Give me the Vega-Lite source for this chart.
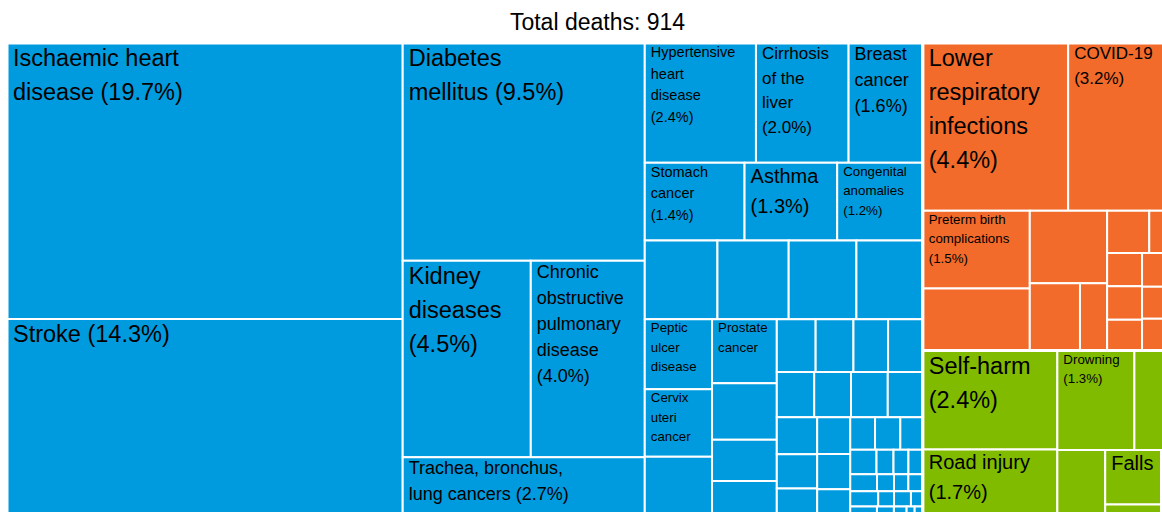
{
  "$schema": "https://vega.github.io/schema/vega-lite/v6.json",
  "width": 1155,
  "height": 469,
  "autosize": {"type": "none"},
  "padding": {"left": 7, "top": 43, "right": 0, "bottom": 0},
  "background": "white",
  "config": {"view": {"stroke": null}},
  "title": {"text": "Total deaths: 914", "font": "Liberation Sans", "fontSize": 23, "fontWeight": "normal", "color": "#000000", "anchor": "middle", "dx": 13, "offset": 8},
  "data": {"values": [
    {"g":"ncd","k1":1,"k2":1,"k3":0,"k4":0,"k5":0,"k6":0,"k7":0,"pct":19.7,"cause":"Ischaemic heart disease","label":["Ischaemic heart","disease (19.7%)"],"tier":"a"},
    {"g":"ncd","k1":1,"k2":2,"k3":0,"k4":0,"k5":0,"k6":0,"k7":0,"pct":14.3,"cause":"Stroke","label":["Stroke (14.3%)"],"tier":"a"},
    {"g":"ncd","k1":2,"k2":1,"k3":0,"k4":0,"k5":0,"k6":0,"k7":0,"pct":9.5,"cause":"Diabetes mellitus","label":["Diabetes","mellitus (9.5%)"],"tier":"a"},
    {"g":"ncd","k1":2,"k2":2,"k3":1,"k4":0,"k5":0,"k6":0,"k7":0,"pct":4.54,"cause":"Kidney diseases","label":["Kidney","diseases","(4.5%)"],"tier":"a"},
    {"g":"ncd","k1":2,"k2":2,"k3":2,"k4":0,"k5":0,"k6":0,"k7":0,"pct":4.04,"cause":"Chronic obstructive pulmonary disease","label":["Chronic","obstructive","pulmonary","disease","(4.0%)"],"tier":"c"},
    {"g":"ncd","k1":2,"k2":3,"k3":0,"k4":0,"k5":0,"k6":0,"k7":0,"pct":2.72,"cause":"Trachea, bronchus, lung cancers","label":["Trachea, bronchus,","lung cancers (2.7%)"],"tier":"c"},
    {"g":"ncd","k1":3,"k2":1,"k3":1,"k4":0,"k5":0,"k6":0,"k7":0,"pct":2.4,"cause":"Hypertensive heart disease","label":["Hypertensive","heart","disease","(2.4%)"],"tier":"e"},
    {"g":"ncd","k1":3,"k2":1,"k3":2,"k4":0,"k5":0,"k6":0,"k7":0,"pct":2.0,"cause":"Cirrhosis of the liver","label":["Cirrhosis","of the","liver","(2.0%)"],"tier":"d"},
    {"g":"ncd","k1":3,"k2":1,"k3":3,"k4":0,"k5":0,"k6":0,"k7":0,"pct":1.6,"cause":"Breast cancer","label":["Breast","cancer","(1.6%)"],"tier":"c"},
    {"g":"ncd","k1":3,"k2":2,"k3":1,"k4":0,"k5":0,"k6":0,"k7":0,"pct":1.4,"cause":"Stomach cancer","label":["Stomach","cancer","(1.4%)"],"tier":"e"},
    {"g":"ncd","k1":3,"k2":2,"k3":2,"k4":0,"k5":0,"k6":0,"k7":0,"pct":1.3,"cause":"Asthma","label":["Asthma","(1.3%)"],"tier":"b"},
    {"g":"ncd","k1":3,"k2":2,"k3":3,"k4":0,"k5":0,"k6":0,"k7":0,"pct":1.2,"cause":"Congenital anomalies","label":["Congenital","anomalies","(1.2%)"],"tier":"f"},
    {"g":"ncd","k1":3,"k2":3,"k3":1,"k4":0,"k5":0,"k6":0,"k7":0,"pct":1.03},
    {"g":"ncd","k1":3,"k2":3,"k3":2,"k4":0,"k5":0,"k6":0,"k7":0,"pct":1.01},
    {"g":"ncd","k1":3,"k2":3,"k3":3,"k4":0,"k5":0,"k6":0,"k7":0,"pct":0.96},
    {"g":"ncd","k1":3,"k2":3,"k3":4,"k4":0,"k5":0,"k6":0,"k7":0,"pct":0.94},
    {"g":"ncd","k1":3,"k2":4,"k3":1,"k4":1,"k5":0,"k6":0,"k7":0,"pct":0.85,"cause":"Peptic ulcer disease","label":["Peptic","ulcer","disease"],"tier":"f"},
    {"g":"ncd","k1":3,"k2":4,"k3":1,"k4":2,"k5":0,"k6":0,"k7":0,"pct":0.82,"cause":"Cervix uteri cancer","label":["Cervix","uteri","cancer"],"tier":"f"},
    {"g":"ncd","k1":3,"k2":4,"k3":1,"k4":3,"k5":0,"k6":0,"k7":0,"pct":0.76},
    {"g":"ncd","k1":3,"k2":4,"k3":2,"k4":1,"k5":0,"k6":0,"k7":0,"pct":0.75,"cause":"Prostate cancer","label":["Prostate","cancer"],"tier":"f"},
    {"g":"ncd","k1":3,"k2":4,"k3":2,"k4":2,"k5":0,"k6":0,"k7":0,"pct":0.66},
    {"g":"ncd","k1":3,"k2":4,"k3":2,"k4":3,"k5":0,"k6":0,"k7":0,"pct":0.48},
    {"g":"ncd","k1":3,"k2":4,"k3":2,"k4":4,"k5":0,"k6":0,"k7":0,"pct":0.45},
    {"g":"ncd","k1":3,"k2":4,"k3":3,"k4":1,"k5":1,"k6":0,"k7":0,"pct":0.37},
    {"g":"ncd","k1":3,"k2":4,"k3":3,"k4":1,"k5":2,"k6":0,"k7":0,"pct":0.36},
    {"g":"ncd","k1":3,"k2":4,"k3":3,"k4":1,"k5":3,"k6":0,"k7":0,"pct":0.33},
    {"g":"ncd","k1":3,"k2":4,"k3":3,"k4":1,"k5":4,"k6":0,"k7":0,"pct":0.33},
    {"g":"ncd","k1":3,"k2":4,"k3":3,"k4":2,"k5":1,"k6":0,"k7":0,"pct":0.305},
    {"g":"ncd","k1":3,"k2":4,"k3":3,"k4":2,"k5":2,"k6":0,"k7":0,"pct":0.30},
    {"g":"ncd","k1":3,"k2":4,"k3":3,"k4":2,"k5":3,"k6":0,"k7":0,"pct":0.30},
    {"g":"ncd","k1":3,"k2":4,"k3":3,"k4":2,"k5":4,"k6":0,"k7":0,"pct":0.285},
    {"g":"ncd","k1":3,"k2":4,"k3":3,"k4":3,"k5":1,"k6":1,"k7":0,"pct":0.27},
    {"g":"ncd","k1":3,"k2":4,"k3":3,"k4":3,"k5":1,"k6":2,"k7":0,"pct":0.25},
    {"g":"ncd","k1":3,"k2":4,"k3":3,"k4":3,"k5":1,"k6":3,"k7":0,"pct":0.225},
    {"g":"ncd","k1":3,"k2":4,"k3":3,"k4":3,"k5":2,"k6":1,"k7":0,"pct":0.22},
    {"g":"ncd","k1":3,"k2":4,"k3":3,"k4":3,"k5":2,"k6":2,"k7":0,"pct":0.21},
    {"g":"ncd","k1":3,"k2":4,"k3":3,"k4":3,"k5":2,"k6":3,"k7":0,"pct":0.18},
    {"g":"ncd","k1":3,"k2":4,"k3":3,"k4":3,"k5":3,"k6":1,"k7":1,"pct":0.146},
    {"g":"ncd","k1":3,"k2":4,"k3":3,"k4":3,"k5":3,"k6":1,"k7":2,"pct":0.149},
    {"g":"ncd","k1":3,"k2":4,"k3":3,"k4":3,"k5":3,"k6":1,"k7":3,"pct":0.132},
    {"g":"ncd","k1":3,"k2":4,"k3":3,"k4":3,"k5":3,"k6":2,"k7":1,"pct":0.116},
    {"g":"ncd","k1":3,"k2":4,"k3":3,"k4":3,"k5":3,"k6":2,"k7":2,"pct":0.075},
    {"g":"ncd","k1":3,"k2":4,"k3":3,"k4":3,"k5":3,"k6":2,"k7":3,"pct":0.066},
    {"g":"ncd","k1":3,"k2":4,"k3":3,"k4":3,"k5":3,"k6":2,"k7":4,"pct":0.063},
    {"g":"ncd","k1":3,"k2":4,"k3":3,"k4":3,"k5":3,"k6":3,"k7":1,"pct":0.082},
    {"g":"ncd","k1":3,"k2":4,"k3":3,"k4":3,"k5":3,"k6":3,"k7":2,"pct":0.052},
    {"g":"ncd","k1":3,"k2":4,"k3":3,"k4":3,"k5":3,"k6":3,"k7":3,"pct":0.044},
    {"g":"ncd","k1":3,"k2":4,"k3":3,"k4":3,"k5":3,"k6":3,"k7":4,"pct":0.044},
    {"g":"ncd","k1":3,"k2":4,"k3":3,"k4":3,"k5":3,"k6":4,"k7":1,"pct":0.076},
    {"g":"ncd","k1":3,"k2":4,"k3":3,"k4":3,"k5":3,"k6":4,"k7":2,"pct":0.043},
    {"g":"ncd","k1":3,"k2":4,"k3":3,"k4":3,"k5":3,"k6":4,"k7":3,"pct":0.046},
    {"g":"ncd","k1":3,"k2":4,"k3":3,"k4":3,"k5":3,"k6":4,"k7":4,"pct":0.032},
    {"g":"ncd","k1":3,"k2":4,"k3":3,"k4":3,"k5":3,"k6":5,"k7":1,"pct":0.063},
    {"g":"ncd","k1":3,"k2":4,"k3":3,"k4":3,"k5":3,"k6":5,"k7":2,"pct":0.04},
    {"g":"ncd","k1":3,"k2":4,"k3":3,"k4":3,"k5":3,"k6":5,"k7":3,"pct":0.03},
    {"g":"ncd","k1":3,"k2":4,"k3":3,"k4":3,"k5":3,"k6":5,"k7":4,"pct":0.019},
    {"g":"ncd","k1":3,"k2":4,"k3":3,"k4":3,"k5":3,"k6":5,"k7":5,"pct":0.019},
    {"g":"comm","k1":4,"k2":1,"k3":1,"k4":0,"k5":0,"k6":0,"k7":0,"pct":4.4,"cause":"Lower respiratory infections","label":["Lower","respiratory","infections","(4.4%)"],"tier":"a"},
    {"g":"comm","k1":4,"k2":1,"k3":2,"k4":0,"k5":0,"k6":0,"k7":0,"pct":3.05,"cause":"COVID-19","label":["COVID-19","(3.2%)"],"tier":"d"},
    {"g":"comm","k1":4,"k2":2,"k3":1,"k4":1,"k5":0,"k6":0,"k7":0,"pct":1.5,"cause":"Preterm birth complications","label":["Preterm birth","complications","(1.5%)"],"tier":"f"},
    {"g":"comm","k1":4,"k2":2,"k3":1,"k4":2,"k5":0,"k6":0,"k7":0,"pct":1.2},
    {"g":"comm","k1":4,"k2":2,"k3":2,"k4":1,"k5":0,"k6":0,"k7":0,"pct":1.01},
    {"g":"comm","k1":4,"k2":2,"k3":2,"k4":2,"k5":1,"k6":0,"k7":0,"pct":0.61},
    {"g":"comm","k1":4,"k2":2,"k3":2,"k4":2,"k5":2,"k6":0,"k7":0,"pct":0.33},
    {"g":"comm","k1":4,"k2":2,"k3":3,"k4":1,"k5":1,"k6":0,"k7":0,"pct":0.32},
    {"g":"comm","k1":4,"k2":2,"k3":3,"k4":1,"k5":2,"k6":0,"k7":0,"pct":0.15},
    {"g":"comm","k1":4,"k2":2,"k3":3,"k4":2,"k5":1,"k6":1,"k7":0,"pct":0.21},
    {"g":"comm","k1":4,"k2":2,"k3":3,"k4":2,"k5":1,"k6":2,"k7":0,"pct":0.21},
    {"g":"comm","k1":4,"k2":2,"k3":3,"k4":2,"k5":1,"k6":3,"k7":0,"pct":0.195},
    {"g":"comm","k1":4,"k2":2,"k3":3,"k4":2,"k5":2,"k6":1,"k7":0,"pct":0.165},
    {"g":"comm","k1":4,"k2":2,"k3":3,"k4":2,"k5":2,"k6":2,"k7":0,"pct":0.155},
    {"g":"comm","k1":4,"k2":2,"k3":3,"k4":2,"k5":2,"k6":3,"k7":0,"pct":0.155},
    {"g":"inj","k1":4,"k2":3,"k3":1,"k4":1,"k5":0,"k6":0,"k7":0,"pct":2.4,"cause":"Self-harm","label":["Self-harm","(2.4%)"],"tier":"a"},
    {"g":"inj","k1":4,"k2":3,"k3":1,"k4":2,"k5":0,"k6":0,"k7":0,"pct":1.7,"cause":"Road injury","label":["Road injury","(1.7%)"],"tier":"b"},
    {"g":"inj","k1":4,"k2":3,"k3":2,"k4":1,"k5":1,"k6":0,"k7":0,"pct":1.38,"cause":"Drowning","label":["Drowning","(1.3%)"],"tier":"f"},
    {"g":"inj","k1":4,"k2":3,"k3":2,"k4":1,"k5":2,"k6":0,"k7":0,"pct":0.62},
    {"g":"inj","k1":4,"k2":3,"k3":2,"k4":2,"k5":1,"k6":0,"k7":0,"pct":0.6},
    {"g":"inj","k1":4,"k2":3,"k3":2,"k4":2,"k5":2,"k6":1,"k7":0,"pct":0.55,"cause":"Falls","label":["Falls"],"tier":"b"},
    {"g":"inj","k1":4,"k2":3,"k3":2,"k4":2,"k5":2,"k6":2,"k7":0,"pct":0.15},
    {"g":"inj","k1":4,"k2":3,"k3":2,"k4":2,"k5":3,"k6":0,"k7":0,"pct":0.1}
  ]},
  "transform": [
    {"stack": "pct", "groupby": [], "sort": [{"field": "k1"}], "offset": "normalize", "as": ["s1a", "s1b"]},
    {"joinaggregate": [{"op": "min", "field": "s1a", "as": "a1"}, {"op": "max", "field": "s1b", "as": "b1"}], "groupby": ["k1"]},
    {"stack": "pct", "groupby": ["k1"], "sort": [{"field": "k2"}], "offset": "normalize", "as": ["s2a", "s2b"]},
    {"joinaggregate": [{"op": "min", "field": "s2a", "as": "a2"}, {"op": "max", "field": "s2b", "as": "b2"}], "groupby": ["k1", "k2"]},
    {"stack": "pct", "groupby": ["k1", "k2"], "sort": [{"field": "k3"}], "offset": "normalize", "as": ["s3a", "s3b"]},
    {"joinaggregate": [{"op": "min", "field": "s3a", "as": "a3"}, {"op": "max", "field": "s3b", "as": "b3"}], "groupby": ["k1", "k2", "k3"]},
    {"stack": "pct", "groupby": ["k1", "k2", "k3"], "sort": [{"field": "k4"}], "offset": "normalize", "as": ["s4a", "s4b"]},
    {"joinaggregate": [{"op": "min", "field": "s4a", "as": "a4"}, {"op": "max", "field": "s4b", "as": "b4"}], "groupby": ["k1", "k2", "k3", "k4"]},
    {"stack": "pct", "groupby": ["k1", "k2", "k3", "k4"], "sort": [{"field": "k5"}], "offset": "normalize", "as": ["s5a", "s5b"]},
    {"joinaggregate": [{"op": "min", "field": "s5a", "as": "a5"}, {"op": "max", "field": "s5b", "as": "b5"}], "groupby": ["k1", "k2", "k3", "k4", "k5"]},
    {"stack": "pct", "groupby": ["k1", "k2", "k3", "k4", "k5"], "sort": [{"field": "k6"}], "offset": "normalize", "as": ["s6a", "s6b"]},
    {"joinaggregate": [{"op": "min", "field": "s6a", "as": "a6"}, {"op": "max", "field": "s6b", "as": "b6"}], "groupby": ["k1", "k2", "k3", "k4", "k5", "k6"]},
    {"stack": "pct", "groupby": ["k1", "k2", "k3", "k4", "k5", "k6"], "sort": [{"field": "k7"}], "offset": "normalize", "as": ["a7", "b7"]},
    {"calculate": "datum.a1 + (datum.b1 - datum.a1) * (datum.a3 + (datum.b3 - datum.a3) * (datum.a5 + (datum.b5 - datum.a5) * datum.a7))", "as": "x0"},
    {"calculate": "datum.a1 + (datum.b1 - datum.a1) * (datum.a3 + (datum.b3 - datum.a3) * (datum.a5 + (datum.b5 - datum.a5) * datum.b7))", "as": "x1"},
    {"calculate": "datum.a2 + (datum.b2 - datum.a2) * (datum.a4 + (datum.b4 - datum.a4) * datum.a6)", "as": "y0"},
    {"calculate": "datum.a2 + (datum.b2 - datum.a2) * (datum.a4 + (datum.b4 - datum.a4) * datum.b6)", "as": "y1"}
  ],
  "encoding": {
    "x": {"field": "x0", "type": "quantitative", "axis": null, "scale": {"domain": [0, 0.99398], "nice": false, "zero": false}},
    "y": {"field": "y0", "type": "quantitative", "axis": null, "scale": {"domain": [0, 0.98426], "reverse": true, "nice": false, "zero": false}}
  },
  "layer": [
    {
      "mark": {"type": "rect", "stroke": "white", "strokeWidth": 2, "clip": true},
      "encoding": {
        "x2": {"field": "x1"},
        "y2": {"field": "y1"},
        "color": {"field": "g", "type": "nominal", "legend": null, "scale": {"domain": ["ncd", "comm", "inj"], "range": ["#009bde", "#f26b2b", "#80bb00"]}}
      }
    },
    {
      "transform": [{"aggregate": [{"op": "min", "field": "x0", "as": "x0"}, {"op": "max", "field": "x1", "as": "x1"}, {"op": "min", "field": "y0", "as": "y0"}, {"op": "max", "field": "y1", "as": "y1"}], "groupby": ["g"]}],
      "mark": {"type": "rect", "filled": false, "stroke": "white", "strokeWidth": 3, "clip": true},
      "encoding": {"x2": {"field": "x1"}, "y2": {"field": "y1"}}
    },
    {
      "transform": [{"filter": "datum.tier === 'a'"}],
      "mark": {"type": "text", "align": "left", "baseline": "line-top", "dx": 6, "dy": -1, "font": "Liberation Sans", "fontSize": 23.5, "lineHeight": 34, "fill": "#000000"},
      "encoding": {"text": {"field": "label", "type": "nominal"}}
    },
    {
      "transform": [{"filter": "datum.tier === 'b'"}],
      "mark": {"type": "text", "align": "left", "baseline": "line-top", "dx": 6, "dy": -1, "font": "Liberation Sans", "fontSize": 20, "lineHeight": 30, "fill": "#000000"},
      "encoding": {"text": {"field": "label", "type": "nominal"}}
    },
    {
      "transform": [{"filter": "datum.tier === 'c'"}],
      "mark": {"type": "text", "align": "left", "baseline": "line-top", "dx": 6, "dy": -1, "font": "Liberation Sans", "fontSize": 18, "lineHeight": 26, "fill": "#000000"},
      "encoding": {"text": {"field": "label", "type": "nominal"}}
    },
    {
      "transform": [{"filter": "datum.tier === 'd'"}],
      "mark": {"type": "text", "align": "left", "baseline": "line-top", "dx": 6, "dy": -1, "font": "Liberation Sans", "fontSize": 17, "lineHeight": 24.5, "fill": "#000000"},
      "encoding": {"text": {"field": "label", "type": "nominal"}}
    },
    {
      "transform": [{"filter": "datum.tier === 'e'"}],
      "mark": {"type": "text", "align": "left", "baseline": "line-top", "dx": 6, "dy": -1, "font": "Liberation Sans", "fontSize": 14.5, "lineHeight": 21.5, "fill": "#000000"},
      "encoding": {"text": {"field": "label", "type": "nominal"}}
    },
    {
      "transform": [{"filter": "datum.tier === 'f'"}],
      "mark": {"type": "text", "align": "left", "baseline": "line-top", "dx": 6, "dy": -1, "font": "Liberation Sans", "fontSize": 13.3, "lineHeight": 19.5, "fill": "#000000"},
      "encoding": {"text": {"field": "label", "type": "nominal"}}
    }
  ]
}
